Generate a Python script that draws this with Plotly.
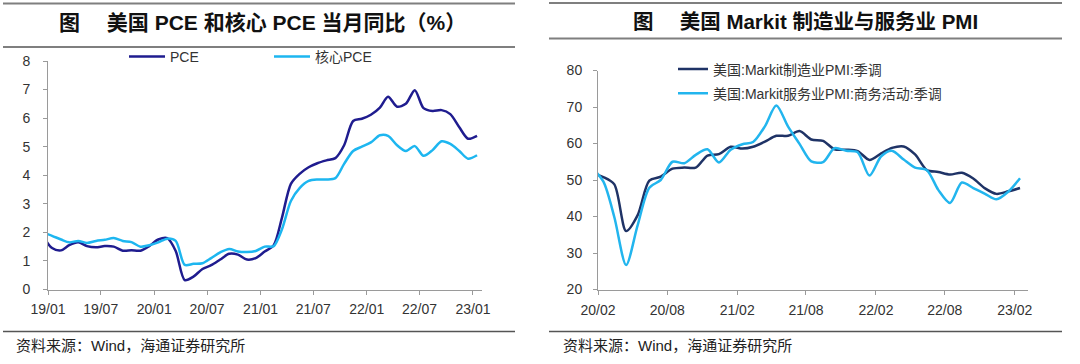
import plotly.graph_objects as go
import pandas as pd

# ---------------- data ----------------
# Left chart: US PCE and core PCE, YoY (%), monthly Dec-2018 .. Jan-2023
pce_months = list(pd.date_range("2018-12-01", "2023-01-01", freq="MS"))
pce = [1.87,
       1.45, 1.37, 1.55, 1.65, 1.52, 1.48, 1.52, 1.50, 1.36, 1.37, 1.36, 1.52,
       1.75, 1.80, 1.35, 0.33, 0.45, 0.72, 0.85, 1.05, 1.25, 1.22, 1.05, 1.10,
       1.33, 1.55, 2.50, 3.70, 4.05, 4.28, 4.42, 4.52, 4.60, 5.05, 5.90, 5.98,
       6.12, 6.37, 6.75, 6.40, 6.50, 6.98, 6.35, 6.25, 6.28, 6.14, 5.68, 5.28,
       5.38]
core_pce = [2.00,
            1.88, 1.75, 1.65, 1.70, 1.63, 1.70, 1.74, 1.80, 1.70, 1.66, 1.50, 1.55,
            1.65, 1.78, 1.70, 0.86, 0.90, 0.92, 1.10, 1.30, 1.42, 1.33, 1.31, 1.35,
            1.50, 1.52, 2.10, 3.10, 3.55, 3.80, 3.85, 3.85, 3.90, 4.40, 4.85, 5.00,
            5.15, 5.40, 5.38, 5.05, 4.85, 5.02, 4.68, 4.88, 5.19, 5.10, 4.85, 4.58,
            4.70]
left_ticks = ["2019-01-01", "2019-07-01", "2020-01-01", "2020-07-01", "2021-01-01",
              "2021-07-01", "2022-01-01", "2022-07-01", "2023-01-01"]
left_ticktext = ["19/01", "19/07", "20/01", "20/07", "21/01", "21/07", "22/01", "22/07", "23/01"]

# Right chart: US Markit PMI, monthly Jan-2020 .. Feb-2023
pmi_months = list(pd.date_range("2020-01-01", "2023-02-01", freq="MS"))
mfg_pmi = [51.9,
           50.8, 48.8, 36.0, 40.3, 49.8, 50.9, 53.1, 53.4, 53.4, 56.7, 57.1,
           59.1, 58.6, 59.1, 60.5, 62.1, 62.1, 63.4, 61.1, 60.7, 58.4, 58.3, 57.9,
           55.5, 57.3, 58.8, 59.2, 57.0, 52.7, 52.2, 51.5, 52.0, 50.4, 47.7, 46.2,
           46.9, 47.8]
svc_pmi = [53.5,
           49.6, 39.8, 26.7, 37.5, 47.9, 50.0, 55.0, 54.6, 56.9, 58.4, 54.8,
           58.3, 59.8, 60.4, 64.7, 70.4, 64.6, 59.9, 55.1, 54.9, 58.7, 58.0, 57.6,
           51.2, 56.5, 58.0, 55.6, 53.4, 52.7, 47.3, 43.7, 49.3, 47.8, 46.2, 44.7,
           46.8, 50.5]
right_ticks = ["2020-02-01", "2020-08-01", "2021-02-01", "2021-08-01", "2022-02-01",
               "2022-08-01", "2023-02-01"]
right_ticktext = ["20/02", "20/08", "21/02", "21/08", "22/02", "22/08", "23/02"]

# ---------------- layout helpers ----------------
W, H = 1080, 364
def px(x):
    return x / W
def py(y):
    return 1 - y / H

FONT = "Liberation Sans, Arial, Noto Sans CJK SC, sans-serif"
DARK1 = "#1f1c8f"
LIGHT1 = "#1db6f0"
DARK2 = "#1f3366"
LIGHT2 = "#22b5ee"
AXIS = "#9a9a9a"
TICKFONT = dict(family=FONT, size=14, color="#333333")

mid = pd.Timedelta(days=14)

fig = go.Figure()
fig.add_trace(go.Scatter(x=[d + mid for d in pce_months], y=pce, name="PCE", mode="lines",
                         line=dict(color=DARK1, width=2.5, shape="spline", smoothing=0.8),
                         xaxis="x", yaxis="y", legend="legend"))
fig.add_trace(go.Scatter(x=[d + mid for d in pce_months], y=core_pce, name="核心PCE", mode="lines",
                         line=dict(color=LIGHT1, width=2.5, shape="spline", smoothing=0.8),
                         xaxis="x", yaxis="y", legend="legend"))
fig.add_trace(go.Scatter(x=[d + mid for d in pmi_months], y=mfg_pmi, name="美国:Markit制造业PMI:季调",
                         mode="lines", line=dict(color=DARK2, width=2.5, shape="spline", smoothing=0.8),
                         xaxis="x2", yaxis="y2", legend="legend2", legendgroup="m"))
fig.add_trace(go.Scatter(x=[d + mid for d in pmi_months], y=svc_pmi, name="美国:Markit服务业PMI:商务活动:季调",
                         mode="lines", line=dict(color=LIGHT2, width=2.5, shape="spline", smoothing=0.8),
                         xaxis="x2", yaxis="y2", legend="legend2", legendgroup="s"))

axis_common = dict(showline=True, linecolor=AXIS, linewidth=1, ticks="outside", ticklen=4,
                   tickcolor=AXIS, tickwidth=1, showgrid=False, zeroline=False,
                   tickfont=TICKFONT, fixedrange=True, automargin=False)

fig.update_layout(
    template="none",
    width=W, height=H,
    margin=dict(l=0, r=0, t=0, b=0, pad=0),
    paper_bgcolor="white", plot_bgcolor="white",
    font=dict(family=FONT, color="#333333"),
    xaxis=dict(domain=[px(48), px(482)], anchor="y", type="date",
               range=["2019-01-01", "2023-02-01"], tickmode="array",
               tickvals=left_ticks, ticktext=left_ticktext, ticklabelstandoff=3, **axis_common),
    yaxis=dict(domain=[py(289.5), py(61)], anchor="x", range=[0, 8], dtick=1,
               tickmode="linear", tick0=0, ticklabelstandoff=10, **axis_common),
    xaxis2=dict(domain=[px(598), px(1028)], anchor="y2", type="date",
                range=["2020-02-01", "2023-03-08"], tickmode="array",
                tickvals=right_ticks, ticktext=right_ticktext, ticklabelstandoff=4, **axis_common),
    yaxis2=dict(domain=[py(289.5), py(70.5)], anchor="x2", range=[20, 80], dtick=10,
                tickmode="linear", tick0=20, ticklabelstandoff=8, **axis_common),
    legend=dict(orientation="h", x=px(124), y=py(57), xanchor="left", yanchor="middle",
                font=dict(family=FONT, size=14, color="#333333"), bgcolor="rgba(0,0,0,0)",
                itemwidth=36, entrywidth=94, itemclick=False),
    legend2=dict(orientation="v", x=px(673), y=py(81.5), xanchor="left", yanchor="middle",
                 font=dict(family=FONT, size=14, color="#333333"), bgcolor="rgba(0,0,0,0)",
                 itemwidth=30, tracegroupgap=3, itemclick=False),
    showlegend=True,
)

RULE = "#7f7f7f"
shapes = []
for x0, x1, y in [(3, 515, 3.5), (3, 515, 47), (549, 1062, 3), (549, 1062, 38.5)]:
    shapes.append(dict(type="line", xref="paper", yref="paper", x0=px(x0), x1=px(x1),
                       y0=py(y), y1=py(y), line=dict(color=RULE, width=2)))
for x0, x1 in [(3, 515), (549, 1062)]:
    shapes.append(dict(type="line", xref="paper", yref="paper", x0=px(x0), x1=px(x1),
                       y0=py(331.5), y1=py(331.5), line=dict(color="#555555", width=1.5)))
fig.update_layout(shapes=shapes)

annotations = [
    dict(text="<b>图　 美国 PCE 和核心 PCE 当月同比（%）</b>", x=px(262), y=py(22.5),
         xref="paper", yref="paper", showarrow=False, xanchor="center", yanchor="middle",
         font=dict(family=FONT, size=21, color="#111111")),
    dict(text="<b>图　 美国 Markit 制造业与服务业 PMI</b>", x=px(805), y=py(21),
         xref="paper", yref="paper", showarrow=False, xanchor="center", yanchor="middle",
         font=dict(family=FONT, size=20.5, color="#111111")),
    dict(text="资料来源：Wind，海通证券研究所", x=px(14), y=py(345),
         xref="paper", yref="paper", showarrow=False, xanchor="left", yanchor="middle",
         font=dict(family=FONT, size=15, color="#222222")),
    dict(text="资料来源：Wind，海通证券研究所", x=px(561), y=py(345),
         xref="paper", yref="paper", showarrow=False, xanchor="left", yanchor="middle",
         font=dict(family=FONT, size=15, color="#222222")),
]
fig.update_layout(annotations=annotations)

fig.write_html("out.html", config={"displayModeBar": False, "staticPlot": True},
               post_script="document.body.style.margin='0';document.body.style.padding='0';")
